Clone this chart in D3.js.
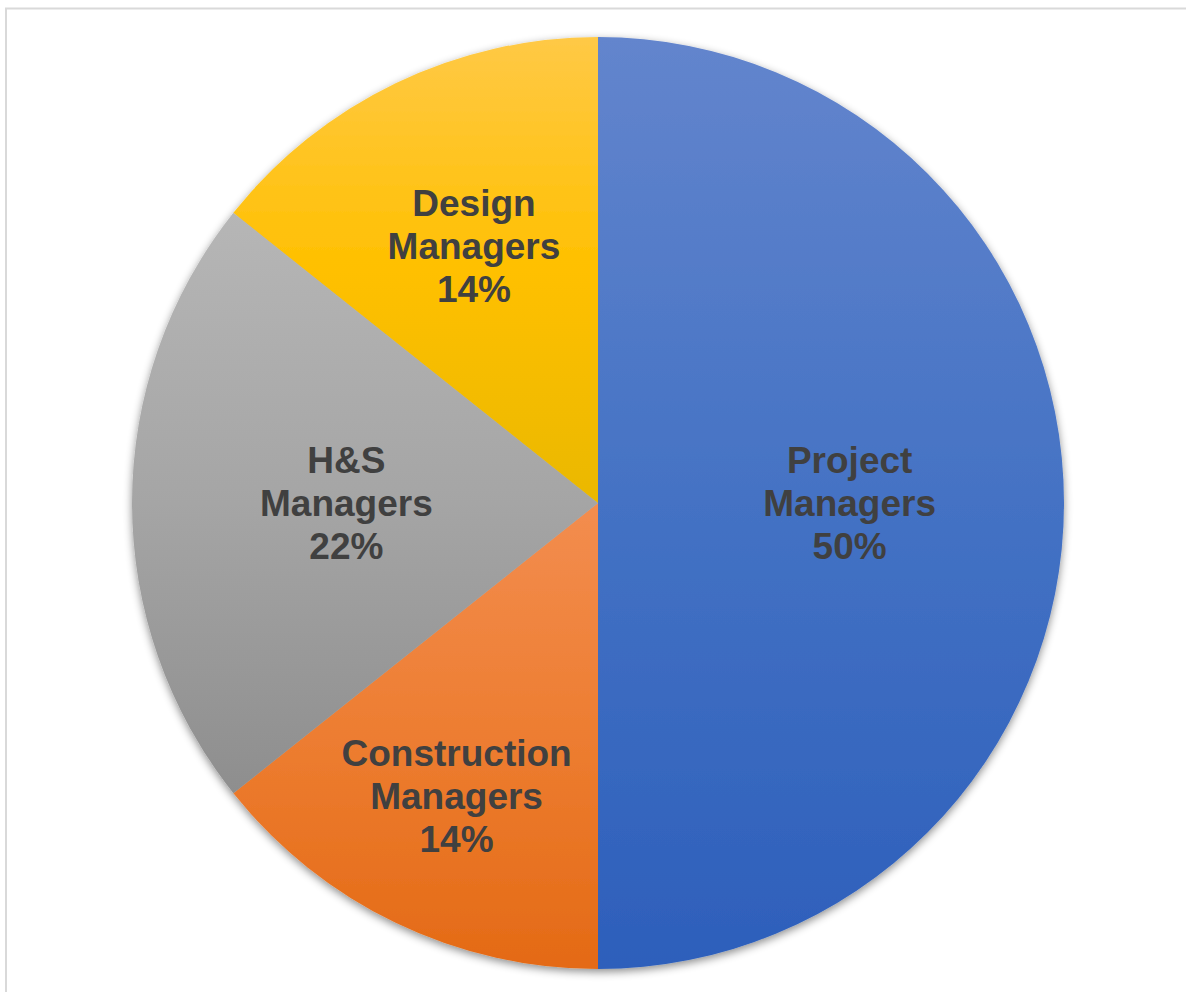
<!DOCTYPE html>
<html>
<head>
<meta charset="utf-8">
<script src="https://cdn.jsdelivr.net/npm/d3@7"></script>
<style>
  html, body { margin: 0; padding: 0; background: #fff; }
  svg { display: block; }
</style>
</head>
<body>
<svg id="pie"></svg>
<script>
// Data (slice sizes; the labels are as printed)
const categories = ['Project Managers', 'Construction Managers', 'H&S Managers', 'Design Managers'];
const values = [50, 14.3, 21.4, 14.3];
const percentLabels = ['50%', '14%', '22%', '14%'];

// Gradient colours (top -> middle -> bottom) for each slice
const topColors = ['#6385cd', '#f38d4f', '#b6b6b6', '#ffc946'];
const midColors = ['#4472c4', '#ed7d31', '#a5a5a5', '#ffc000'];
const bottomColors = ['#2d5fbb', '#e46a15', '#8e8e8e', '#eab800'];

const width = 1186, height = 992;
const cx = 598, cy = 503, radius = 466;

const svg = d3.select('#pie')
    .attr('width', width)
    .attr('height', height);

// Chart area frame
svg.append('rect')
    .attr('x', 6)
    .attr('y', 8.5)
    .attr('width', width + 20)
    .attr('height', height + 20)
    .attr('fill', 'none')
    .attr('stroke', '#d9d9d9')
    .attr('stroke-width', 2);

const defs = svg.append('defs');

// soft shadow under the pie
const shadow = defs.append('filter')
    .attr('id', 'shadow')
    .attr('x', '-10%').attr('y', '-10%')
    .attr('width', '120%').attr('height', '120%');
shadow.append('feDropShadow')
    .attr('dx', 0)
    .attr('dy', 3)
    .attr('stdDeviation', 4)
    .attr('flood-color', '#000')
    .attr('flood-opacity', 0.45);

categories.forEach((c, i) => {
    const g = defs.append('linearGradient')
        .attr('id', 'grad' + i)
        .attr('x1', 0).attr('y1', 0)
        .attr('x2', 0).attr('y2', 1);
    g.append('stop').attr('offset', '0%').attr('stop-color', topColors[i]);
    g.append('stop').attr('offset', '50%').attr('stop-color', midColors[i]);
    g.append('stop').attr('offset', '100%').attr('stop-color', bottomColors[i]);
});

const data = categories.map((name, i) => ({name, value: values[i], pct: percentLabels[i], i}));

const pie = d3.pie()
    .sort(null)
    .value(d => d.value);

const arc = d3.arc()
    .innerRadius(0)
    .outerRadius(radius);

const arcs = pie(data);

const chart = svg.append('g')
    .attr('transform', `translate(${cx},${cy})`);

// Slices
chart.append('g')
    .attr('filter', 'url(#shadow)')
    .selectAll('path')
    .data(arcs)
    .enter()
    .append('path')
    .attr('d', arc)
    .attr('fill', d => `url(#grad${d.data.i})`);

// Labels
const lineH = 43;
const labels = chart.selectAll('.label')
    .data(arcs)
    .enter()
    .append('text')
    .attr('class', 'label')
    .attr('text-anchor', 'middle')
    .style('font-family', '"Liberation Sans", Arial, sans-serif')
    .style('font-weight', 'bold')
    .style('font-size', '37px')
    .style('fill', '#404040');

labels.each(function(d) {
    const t = d3.select(this);
    const lines = d.data.name.split(' ').concat([d.data.pct]);
    lines.forEach((ln, k) => {
        t.append('tspan')
            .attr('x', 0)
            .attr('y', (k - (lines.length - 1) / 2) * lineH)
            .attr('dy', '0.35em')
            .text(ln);
    });
});

// place each label along the slice's mid angle, pushed outward until the box fits in the wedge
const pad = 20;
labels.attr('transform', function(d) {
    const bb = this.getBBox();
    const mid = (d.startAngle + d.endAngle) / 2;
    const ux = Math.sin(mid), uy = -Math.cos(mid);
    const n1 = [Math.cos(d.startAngle), Math.sin(d.startAngle)];
    const n2 = [-Math.cos(d.endAngle), -Math.sin(d.endAngle)];
    let dist = radius * 0.54;
    for (; dist < radius; dist += 1) {
        const px = ux * dist, py = uy * dist;
        const corners = [
            [px + bb.x, py + bb.y],
            [px + bb.x + bb.width, py + bb.y],
            [px + bb.x, py + bb.y + bb.height],
            [px + bb.x + bb.width, py + bb.y + bb.height]
        ];
        const ok = corners.every(p =>
            p[0] * n1[0] + p[1] * n1[1] >= pad &&
            p[0] * n2[0] + p[1] * n2[1] >= pad &&
            Math.hypot(p[0], p[1]) <= radius - pad);
        if (ok) break;
    }
    return `translate(${ux * dist},${uy * dist})`;
});
</script>
</body>
</html>
